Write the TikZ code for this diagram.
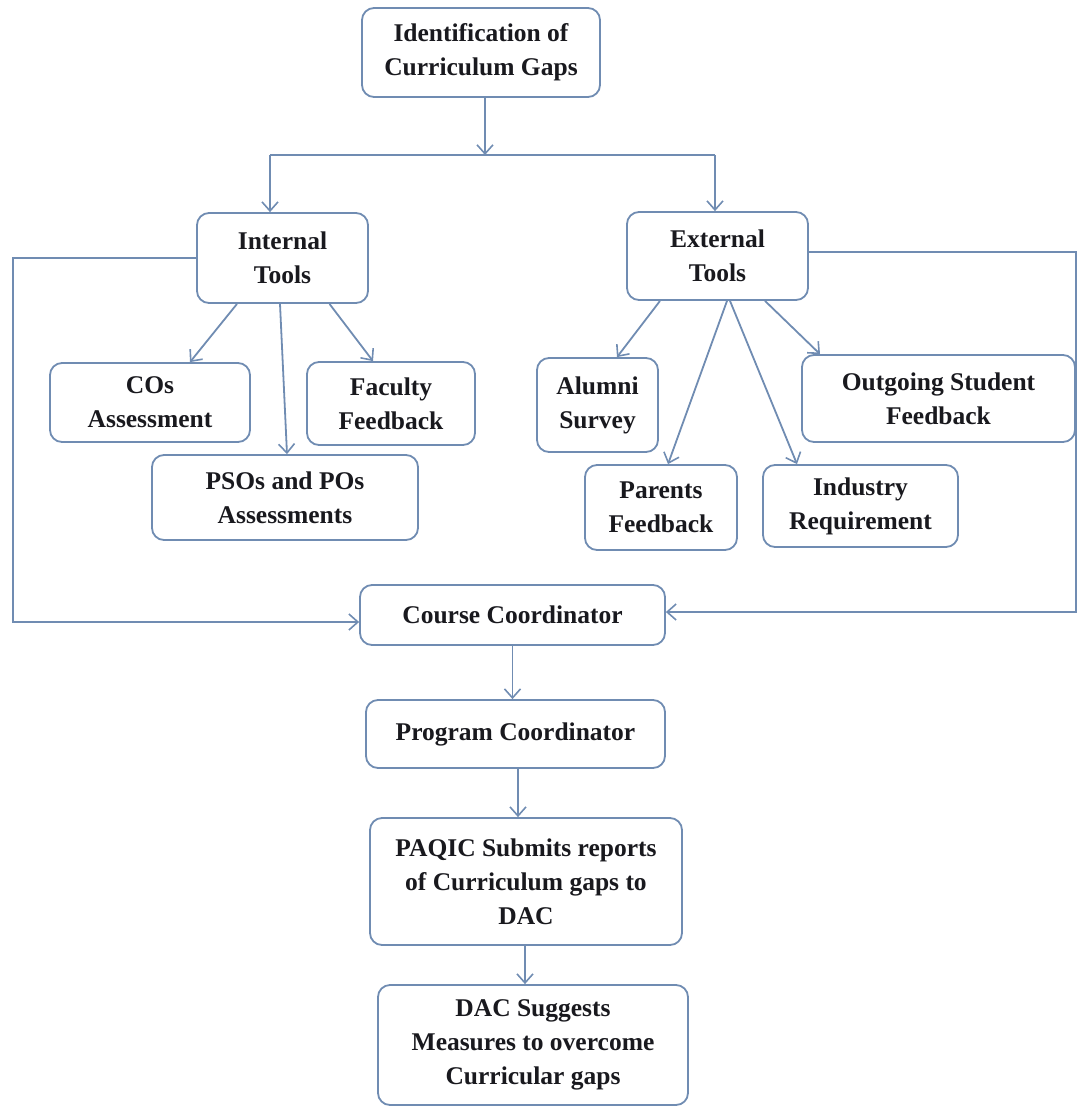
\documentclass[tikz,border=0pt]{standalone}
\usepackage{fontspec}
\setmainfont{Liberation Serif}
\usetikzlibrary{arrows.meta}
\definecolor{edge}{RGB}{112,140,178}
\definecolor{ink}{RGB}{25,25,30}
\begin{document}
\begin{tikzpicture}[x=1pt,y=-1pt,
  box/.style={draw=edge, line width=1.8pt, rounded corners=12pt, fill=white,
    align=center, inner sep=0pt, text=ink,
    font=\fontsize{25.5}{34}\selectfont\bfseries},
  conn/.style={draw=edge, line width=1.8pt},
  arr/.style={conn, -{Straight Barb[length=9pt,width=16pt,line width=1.6pt]}}]
\useasboundingbox (0,0) rectangle (1078,1114);
\node[box, minimum width=238pt, minimum height=89pt] (top) at (481,52.5) {Identification of\\Curriculum Gaps};
\node[box, minimum width=171pt, minimum height=90pt] (internal) at (282.5,258) {Internal\\Tools};
\node[box, minimum width=181pt, minimum height=88pt] (external) at (717.5,256) {External\\Tools};
\node[box, minimum width=200pt, minimum height=79pt] (cos) at (150,402.5) {COs\\Assessment};
\node[box, minimum width=168pt, minimum height=83pt] (faculty) at (391,403.5) {Faculty\\Feedback};
\node[box, minimum width=266pt, minimum height=85pt] (psos) at (285,497.5) {PSOs and POs\\Assessments};
\node[box, minimum width=121pt, minimum height=94pt] (alumni) at (597.5,405) {Alumni\\Survey};
\node[box, minimum width=152pt, minimum height=85pt] (parents) at (661,507.5) {Parents\\Feedback};
\node[box, minimum width=195pt, minimum height=82pt] (industry) at (860.5,506) {Industry\\Requirement};
\node[box, minimum width=273pt, minimum height=87pt] (outgoing) at (938.5,398.5) {Outgoing Student\\Feedback};
\node[box, minimum width=305pt, minimum height=60pt] (course) at (512.5,615) {Course Coordinator};
\node[box, minimum width=299pt, minimum height=68pt] (program) at (515.5,734) {Program Coordinator};
\node[box, minimum width=312pt, minimum height=127pt] (paqic) at (526,881.5) {PAQIC Submits reports\\of Curriculum gaps to\\DAC};
\node[box, minimum width=310pt, minimum height=120pt] (dac) at (533,1045) {DAC Suggests\\Measures to overcome\\Curricular gaps};

\coordinate (hl) at (270,155);
\coordinate (hr) at (715,155);
\coordinate (lc) at (13,259);
\coordinate (rc) at (1076,252);

\draw[conn] (hl) -- (hr);
\draw[arr] ([xshift=4pt]top.south) -- ([xshift=4pt]top.south |- hl);
\draw[arr] (hl) -- (hl |- internal.north);
\draw[arr] (hr) -- (hr |- external.north);

\draw[arr] (internal.west) -- (internal.west -| lc) |- ([yshift=-7pt]course.west);
\draw[arr] ([yshift=4pt]external.east) -- ([yshift=4pt]external.east -| rc) |- ([yshift=3pt]course.east);

\draw[arr] ([xshift=-45.5pt]internal.south) -- ([xshift=40pt]cos.north);
\draw[arr] ([xshift=47pt]internal.south) -- ([xshift=-18pt]faculty.north);
\draw[arr] ([xshift=-2.5pt]internal.south) -- ([xshift=2pt]psos.north);

\draw[arr] ([xshift=-57.5pt]external.south) -- ([xshift=19.5pt]alumni.north);
\draw[arr] ([xshift=9.5pt]external.south) -- ([xshift=7pt]parents.north);
\draw[arr] ([xshift=12.5pt]external.south) -- ([xshift=-63.5pt]industry.north);
\draw[arr] ([xshift=47.5pt]external.south) -- ([xshift=-118.5pt]outgoing.north);

\draw[arr] (course.south) -- (course.south |- program.north);
\draw[arr] ([xshift=2.5pt]program.south) -- ([xshift=2.5pt]program.south |- paqic.north);
\draw[arr] ([xshift=-1pt]paqic.south) -- ([xshift=-1pt]paqic.south |- dac.north);
\end{tikzpicture}
\end{document}
